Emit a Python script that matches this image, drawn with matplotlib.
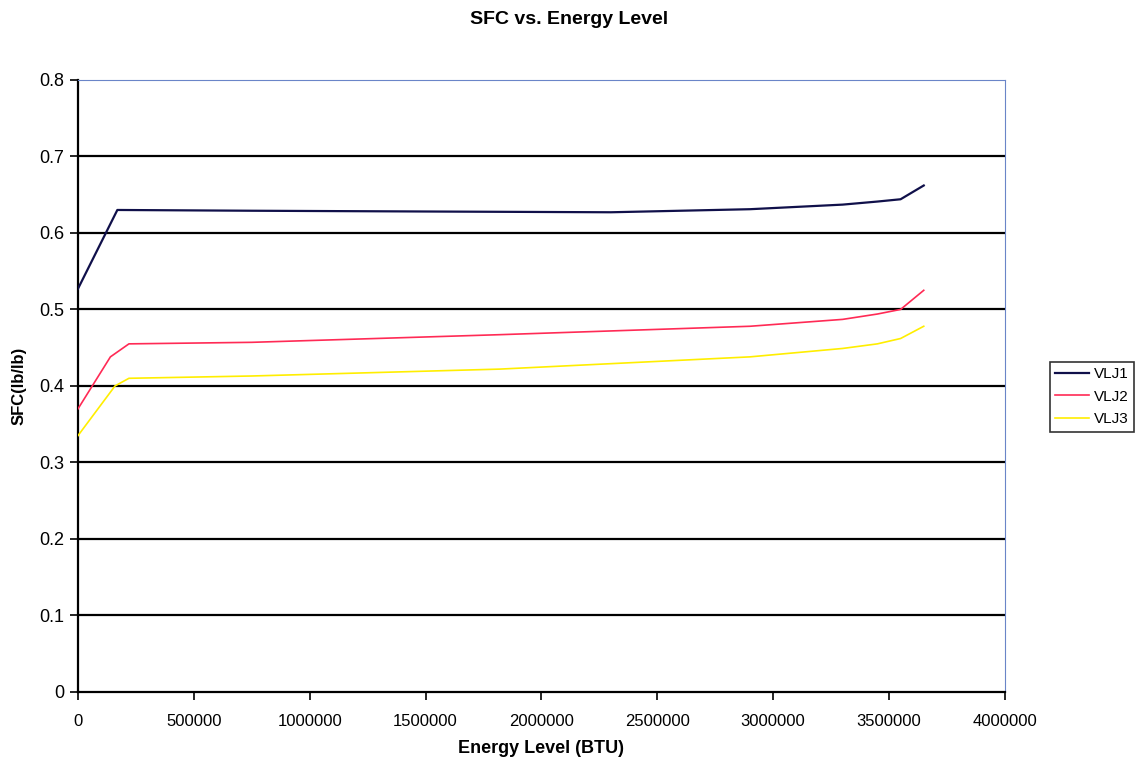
import matplotlib
matplotlib.use("Agg")
import matplotlib.pyplot as plt
from matplotlib.ticker import FixedLocator

plt.rcParams['font.family'] = ['Liberation Sans', 'DejaVu Sans']

# energy level (BTU) and SFC values
energy_vlj1 = [0, 170000, 750000, 1500000, 2300000, 2900000, 3300000, 3450000, 3550000, 3650000]
sfc_vlj1 = [0.527, 0.630, 0.629, 0.628, 0.627, 0.631, 0.637, 0.641, 0.644, 0.662]

energy_vlj2 = [0, 140000, 220000, 750000, 1820000, 2900000, 3300000, 3450000, 3550000, 3650000]
sfc_vlj2 = [0.370, 0.438, 0.455, 0.457, 0.467, 0.478, 0.487, 0.494, 0.500, 0.525]

energy_vlj3 = [0, 160000, 220000, 750000, 1820000, 2900000, 3300000, 3450000, 3550000, 3650000]
sfc_vlj3 = [0.335, 0.400, 0.410, 0.413, 0.422, 0.438, 0.449, 0.455, 0.462, 0.478]

series_names = ['VLJ1', 'VLJ2', 'VLJ3']
series_colors = ['#10104a', '#ff2a55', '#ffee00']
x_ticks = [0, 500000, 1000000, 1500000, 2000000, 2500000, 3000000, 3500000, 4000000]
y_ticks = [0, 0.1, 0.2, 0.3, 0.4, 0.5, 0.6, 0.7, 0.8]

fig = plt.figure(figsize=(11.38, 7.61), dpi=100)
ax = fig.add_axes([0.0685, 0.0907, 0.8145, 0.8043])

for y in y_ticks[1:-1]:
    ax.axhline(y, color='black', lw=1.6, zorder=1)

data = [(energy_vlj1, sfc_vlj1), (energy_vlj2, sfc_vlj2), (energy_vlj3, sfc_vlj3)]
lines = []
for (xs, ys), name, col in zip(data, series_names, series_colors):
    ln, = ax.plot(xs, ys, color=col, lw=1.6 if name == 'VLJ1' else 1.2, label=name, zorder=3)
    lines.append(ln)

ax.set_xlim(0, 4000000)
ax.set_ylim(0, 0.8)
ax.xaxis.set_major_locator(FixedLocator(x_ticks))
ax.yaxis.set_major_locator(FixedLocator(y_ticks))
ax.set_xticklabels([str(v) for v in x_ticks], fontsize=12)
ax.set_yticklabels(['0' if v == 0 else '%.1f' % v for v in y_ticks], fontsize=13)
ax.tick_params(axis='both', direction='out', length=6, width=1.2, color='black')
ax.tick_params(axis='x', pad=10)
ax.tick_params(axis='y', pad=4)

ax.spines['left'].set_color('black')
ax.spines['left'].set_linewidth(1.6)
ax.spines['bottom'].set_color('black')
ax.spines['bottom'].set_linewidth(1.6)
ax.spines['top'].set_color('#6a85c8')
ax.spines['top'].set_linewidth(0.8)
ax.spines['right'].set_color('#6a85c8')
ax.spines['right'].set_linewidth(0.8)

ax.set_xlabel('Energy Level (BTU)', fontsize=13, fontweight='bold', labelpad=8)
ax.set_ylabel('SFC(lb/lb)', fontsize=12, fontweight='bold')
ax.yaxis.set_label_coords(-0.056, 0.5)
fig.suptitle('SFC vs. Energy Level', fontsize=14, fontweight='bold', y=0.985)

leg = fig.legend(handles=lines, loc='upper left', bbox_to_anchor=(1050 / 1138, 1 - 362 / 761),
                 frameon=True, fancybox=False, edgecolor='black', fontsize=11,
                 handlelength=2.2, borderpad=0.35, labelspacing=0.55, handletextpad=0.3,
                 borderaxespad=0)
leg.get_frame().set_linewidth(1.2)

fig.savefig('out.png', dpi=100, facecolor='white')
